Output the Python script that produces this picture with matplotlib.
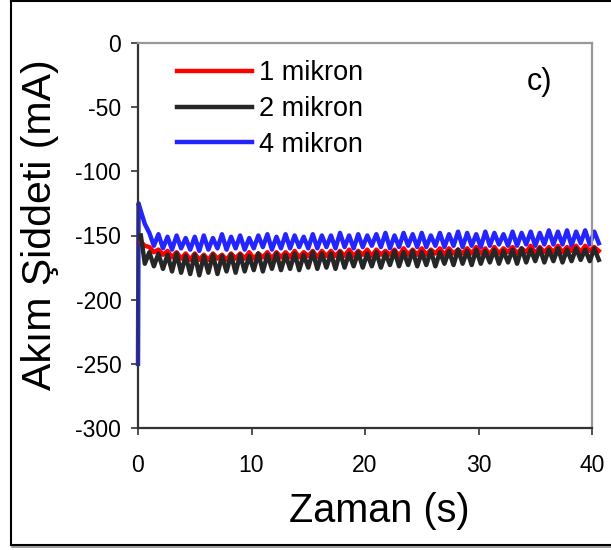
import numpy as np
import matplotlib
matplotlib.use('Agg')
import matplotlib.pyplot as plt
from matplotlib.lines import Line2D

plt.rcParams['font.family'] = ['Liberation Sans', 'DejaVu Sans']
plt.rcParams['axes.unicode_minus'] = False

# time samples (s)
t_s = [0.0, 0.05, 0.25, 0.6,
       1.0, 1.4, 1.8, 2.2, 2.6, 3.0, 3.4, 3.8, 4.2, 4.6,
       5.0, 5.4, 5.8, 6.2, 6.6, 7.0, 7.4, 7.8, 8.2, 8.6,
       9.0, 9.4, 9.8, 10.2, 10.6, 11.0, 11.4, 11.8, 12.2, 12.6,
       13.0, 13.4, 13.8, 14.2, 14.6, 15.0, 15.4, 15.8, 16.2, 16.6,
       17.0, 17.4, 17.8, 18.2, 18.6, 19.0, 19.4, 19.8, 20.2, 20.6,
       21.0, 21.4, 21.8, 22.2, 22.6, 23.0, 23.4, 23.8, 24.2, 24.6,
       25.0, 25.4, 25.8, 26.2, 26.6, 27.0, 27.4, 27.8, 28.2, 28.6,
       29.0, 29.4, 29.8, 30.2, 30.6, 31.0, 31.4, 31.8, 32.2, 32.6,
       33.0, 33.4, 33.8, 34.2, 34.6, 35.0, 35.4, 35.8, 36.2, 36.6,
       37.0, 37.4, 37.8, 38.2, 38.6, 39.0, 39.4, 39.8, 40.2, 40.6]

# 1 mikron (mA)
i_1 = [np.nan, np.nan, -155, -158,
       -159, -163, -161, -165, -162, -167, -163, -168, -164, -169,
       -164, -169, -165, -169, -164, -168, -165, -169, -164, -168,
       -164, -168, -163, -168, -164, -167, -163, -168, -163, -167,
       -163, -167, -162, -167, -163, -166, -162, -167, -162, -166,
       -162, -166, -162, -166, -161, -166, -162, -165, -161, -166,
       -161, -165, -162, -165, -161, -166, -160, -165, -161, -165,
       -160, -165, -161, -164, -160, -165, -160, -164, -161, -164,
       -160, -164, -159, -164, -160, -165, -159, -164, -160, -163,
       -159, -164, -160, -163, -158, -164, -159, -163, -159, -163,
       -158, -163, -159, -162, -158, -163, -158, -162, -159, -162]

# 2 mikron (mA)
i_2 = [np.nan, np.nan, -150, -172,
       -163, -174, -164, -176, -165, -178, -164, -179, -166, -180,
       -165, -181, -166, -179, -165, -180, -166, -178, -165, -179,
       -165, -178, -166, -177, -164, -178, -165, -176, -164, -177,
       -165, -176, -164, -177, -165, -175, -163, -176, -164, -175,
       -164, -176, -163, -175, -164, -174, -163, -175, -164, -174,
       -163, -175, -164, -173, -162, -174, -163, -173, -162, -174,
       -163, -173, -162, -174, -163, -172, -162, -173, -161, -172,
       -162, -173, -161, -172, -162, -171, -161, -172, -162, -171,
       -161, -172, -160, -171, -161, -170, -160, -171, -161, -170,
       -160, -171, -161, -170, -160, -169, -161, -170, -160, -169]

# 4 mikron (mA)
i_4 = [-250, -125, -131, -141,
       -148, -158, -149, -160, -151, -161, -150, -160, -152, -161,
       -151, -162, -150, -161, -152, -160, -149, -161, -151, -160,
       -150, -161, -152, -160, -150, -159, -149, -161, -151, -160,
       -149, -160, -150, -159, -151, -160, -149, -160, -150, -159,
       -150, -160, -148, -159, -150, -160, -149, -159, -150, -158,
       -149, -159, -148, -160, -150, -159, -148, -158, -149, -159,
       -148, -159, -150, -158, -148, -159, -149, -158, -147, -159,
       -148, -158, -149, -159, -147, -158, -148, -157, -149, -158,
       -147, -158, -148, -157, -147, -158, -148, -157, -146, -157,
       -147, -157, -146, -158, -147, -156, -146, -157, -147, -156]

labels = ['1 mikron', '2 mikron', '4 mikron']
colors = ['#ff0000', '#262626', '#2424ff']
layer = [3, 4, 2]

fig = plt.figure(figsize=(6.11, 5.5), dpi=100)
ax = fig.add_axes([138/611, 1 - 428/550, 454/611, 385/550])

for y, c, lab, z in zip([i_1, i_2, i_4], colors, labels, layer):
    ax.plot(t_s, y, color=c, linewidth=3.2, label=lab, clip_on=False,
            zorder=z)

ax.set_xlim(0, 40)
ax.set_ylim(-300, 0)
ax.set_xticks([0, 10, 20, 30, 40])
ax.set_yticks([0, -50, -100, -150, -200, -250, -300])
ax.tick_params(direction='out', length=5, width=1.2, colors='#333333',
               labelcolor='black', labelsize=16.5, top=False, right=False)
ax.tick_params(axis='x', pad=14)
ax.tick_params(axis='y', pad=7)

for s in ['left', 'bottom']:
    ax.spines[s].set_color('#333333')
    ax.spines[s].set_linewidth(1.6)
for s in ['top', 'right']:
    ax.spines[s].set_color('#999999')
    ax.spines[s].set_linewidth(1.6)

ax.legend(loc='upper left', bbox_to_anchor=(0.086, 0.955), frameon=False,
          fontsize=19.5, handlelength=2.75, handletextpad=0.26,
          labelspacing=0.36, borderpad=0, borderaxespad=0)
ax.text(0.885, 0.9, 'c)', transform=ax.transAxes, fontsize=22,
        ha='center', va='center')

fig.text(40/611, 1 - 225/550, 'Akım Şiddeti (mA)', rotation=90,
         fontsize=29.5, ha='center', va='center')
fig.text(379/611, 1 - 511/550, 'Zaman (s)', fontsize=28.5,
         ha='center', va='center')

# outer frame
fig.add_artist(Line2D([11/611, 11/611], [1 - 545/550, 1 - 1/550],
                      transform=fig.transFigure, color='black', lw=1.5))
fig.add_artist(Line2D([11/611, 1], [1 - 1/550, 1 - 1/550],
                      transform=fig.transFigure, color='black', lw=1.5))
fig.add_artist(Line2D([11/611, 1], [1 - 545/550, 1 - 545/550],
                      transform=fig.transFigure, color='black', lw=1.5))
fig.add_artist(Line2D([12/611, 1], [1 - 547/550, 1 - 547/550],
                      transform=fig.transFigure, color='#888888', lw=1.2))

fig.savefig('out.png', dpi=100)
